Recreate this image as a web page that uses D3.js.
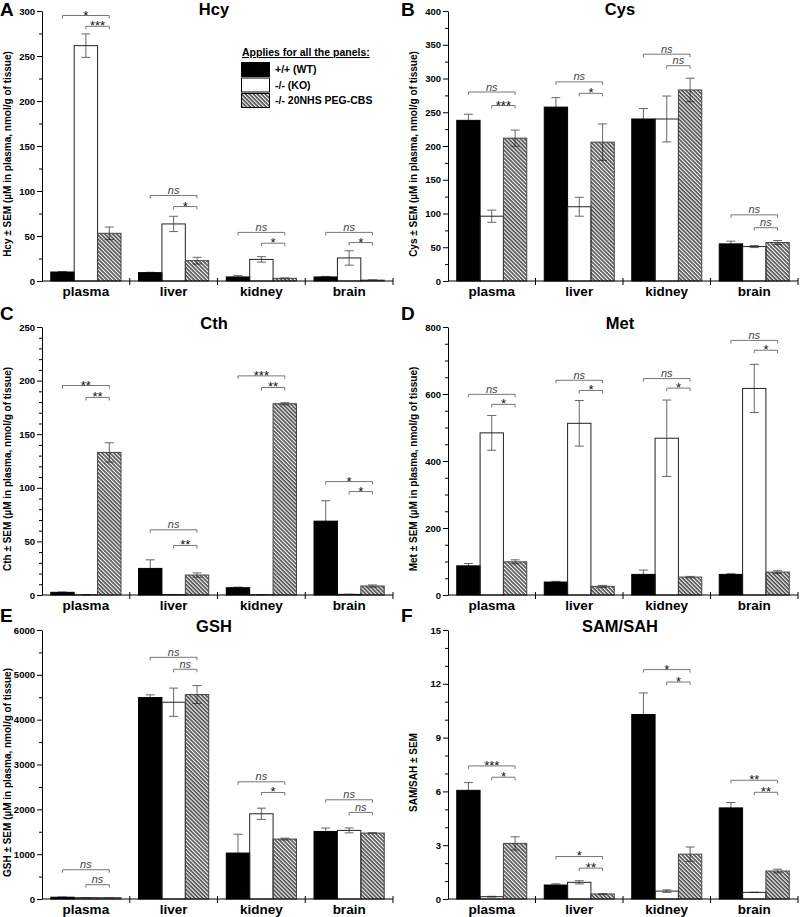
<!DOCTYPE html>
<html>
<head>
<meta charset="utf-8">
<script src="https://cdn.jsdelivr.net/npm/d3@7"></script>
<style>
  body { margin: 0; background: #fff; }
  svg { display: block; font-family: "Liberation Sans", Arial, sans-serif; }
</style>
</head>
<body>
<div id="chart"></div>
<script>
// Categories and groups
const categories = ['plasma', 'liver', 'kidney', 'brain'];
const groups = ['+/+ (WT)', '-/- (KO)', '-/- 20NHS PEG-CBS'];

// A - Hcy
const hcyWT = [10, 9.3, 4.5, 4.5];
const hcyKO = [261.5, 63.4, 24, 25.6];
const hcyPEG = [53, 22.6, 3, 1];
const hcyWTsem = [0.6, 0.4, 1.5, 0.6];
const hcyKOsem = [13, 8.5, 3, 8];
const hcyPEGsem = [7, 3.7, 0.4, 0.3];
const hcySigOuter = ['*', 'ns', 'ns', 'ns'];
const hcySigOuterAt = [295, 95, 54, 54];
const hcySigInner = ['***', '*', '*', '*'];
const hcySigInnerAt = [283, 82.7, 42, 42.7];
const hcyTicks = [0, 50, 100, 150, 200, 250, 300];

// B - Cys
const cysWT = [238, 257.6, 240, 55];
const cysKO = [96, 110, 240, 51];
const cysPEG = [211.6, 205.7, 283, 57];
const cysWTsem = [9, 14, 15.5, 4];
const cysKOsem = [9, 14, 34, 1.5];
const cysPEGsem = [12, 27, 17.5, 3];
const cysSigOuter = ['ns', 'ns', 'ns', 'ns'];
const cysSigOuterAt = [280, 295, 336, 98];
const cysSigInner = ['***', '*', 'ns', 'ns'];
const cysSigInnerAt = [260, 278, 319, 79];
const cysTicks = [0, 50, 100, 150, 200, 250, 300, 350, 400];

// C - Cth
const cthWT = [2.5, 24.8, 6.8, 68.9];
const cthKO = [0.2, 0.4, 0.3, 0.6];
const cthPEG = [133, 18.6, 178.4, 8.4];
const cthWTsem = [0.3, 8, 0.6, 19];
const cthKOsem = [0.05, 0.1, 0.05, 0.1];
const cthPEGsem = [9, 2, 1, 1];
const cthSigOuter = ['**', 'ns', '***', '*'];
const cthSigOuterAt = [195.4, 60.8, 204.4, 105.8];
const cthSigInner = ['**', '**', '**', '*'];
const cthSigInnerAt = [184.3, 46.2, 193.6, 96.5];
const cthTicks = [0, 50, 100, 150, 200, 250];

// D - Met
const metWT = [87, 38.7, 61.5, 61.5];
const metKO = [484, 512.5, 468, 616.6];
const metPEG = [99, 25.8, 53.5, 68.4];
const metWTsem = [7, 2, 13, 2];
const metKOsem = [52, 68, 114, 72];
const metPEGsem = [6, 3, 2, 4];
const metSigOuter = ['ns', 'ns', 'ns', 'ns'];
const metSigOuterAt = [599, 641, 646, 760];
const metSigInner = ['*', '*', '*', '*'];
const metSigInnerAt = [569, 610.6, 617.6, 730.6];
const metTicks = [0, 200, 400, 600, 800];

// E - GSH
const gshWT = [40, 4493, 1025, 1507];
const gshKO = [30, 4389, 1901, 1530];
const gshPEG = [30, 4560, 1337, 1470];
const gshWTsem = [3, 60, 420, 75];
const gshKOsem = [3, 315, 125, 55];
const gshPEGsem = [3, 200, 20, 10];
const gshSigOuter = ['ns', 'ns', 'ns', 'ns'];
const gshSigOuterAt = [653, 5391, 2614, 2213];
const gshSigInner = ['ns', 'ns', '*', 'ns'];
const gshSigInnerAt = [319, 5124, 2376, 1931];
const gshTicks = [0, 1000, 2000, 3000, 4000, 5000, 6000];

// F - SAM/SAH
const ssWT = [6.06, 0.78, 10.29, 5.08];
const ssKO = [0.13, 0.93, 0.44, 0.37];
const ssPEG = [3.1, 0.28, 2.5, 1.56];
const ssWTsem = [0.43, 0.07, 1.2, 0.3];
const ssKOsem = [0.02, 0.09, 0.07, 0.01];
const ssPEGsem = [0.37, 0.02, 0.4, 0.1];
const ssSigOuter = ['***', '*', '*', '**'];
const ssSigOuterAt = [7.42, 2.37, 12.79, 6.62];
const ssSigInner = ['*', '**', '*', '**'];
const ssSigInnerAt = [6.79, 1.72, 12.1, 5.95];
const ssTicks = [0, 3, 6, 9, 12, 15];

const width = 800, height = 917;

const svg = d3.select('#chart')
  .append('svg')
  .attr('width', width)
  .attr('height', height);

// hatch pattern for the PEG-CBS bars
const pat = svg.append('defs').append('pattern')
  .attr('id', 'hatch')
  .attr('patternUnits', 'userSpaceOnUse')
  .attr('width', 2.8)
  .attr('height', 2.8)
  .attr('patternTransform', 'rotate(-45)');
pat.append('line')
  .attr('x1', 1).attr('y1', 0).attr('x2', 1).attr('y2', 2.8)
  .attr('stroke', '#111')
  .attr('stroke-width', 1.25);

const fills = ['#000', 'none', 'url(#hatch)'];
const strokes = ['#000', '#222', '#444'];

// layout of the six panels
const cols = [
  { left: 42, right: 393, letterX: 0, ylabelX: 7 },
  { left: 448, right: 798, letterX: 401, ylabelX: 413 }
];
const rows = [
  { top: 11, bottom: 281, letterY: 16, titleY: 15 },
  { top: 327, bottom: 595, letterY: 320, titleY: 329 },
  { top: 630, bottom: 899, letterY: 622, titleY: 632 }
];

const panels = [
  { letter: 'A', title: 'Hcy', ylabel: 'Hcy ± SEM (µM in plasma, nmol/g of tissue)',
    ticks: hcyTicks, minor: 25, vals: [hcyWT, hcyKO, hcyPEG], sems: [hcyWTsem, hcyKOsem, hcyPEGsem],
    outer: hcySigOuter, outerAt: hcySigOuterAt, inner: hcySigInner, innerAt: hcySigInnerAt },
  { letter: 'B', title: 'Cys', ylabel: 'Cys ± SEM (µM in plasma, nmol/g of tissue)',
    ticks: cysTicks, minor: 25, vals: [cysWT, cysKO, cysPEG], sems: [cysWTsem, cysKOsem, cysPEGsem],
    outer: cysSigOuter, outerAt: cysSigOuterAt, inner: cysSigInner, innerAt: cysSigInnerAt },
  { letter: 'C', title: 'Cth', ylabel: 'Cth ± SEM (µM in plasma, nmol/g of tissue)',
    ticks: cthTicks, minor: 10, vals: [cthWT, cthKO, cthPEG], sems: [cthWTsem, cthKOsem, cthPEGsem],
    outer: cthSigOuter, outerAt: cthSigOuterAt, inner: cthSigInner, innerAt: cthSigInnerAt },
  { letter: 'D', title: 'Met', ylabel: 'Met ± SEM (µM in plasma, nmol/g of tissue)',
    ticks: metTicks, minor: 50, vals: [metWT, metKO, metPEG], sems: [metWTsem, metKOsem, metPEGsem],
    outer: metSigOuter, outerAt: metSigOuterAt, inner: metSigInner, innerAt: metSigInnerAt },
  { letter: 'E', title: 'GSH', ylabel: 'GSH ± SEM (µM in plasma, nmol/g of tissue)',
    ticks: gshTicks, minor: 500, vals: [gshWT, gshKO, gshPEG], sems: [gshWTsem, gshKOsem, gshPEGsem],
    outer: gshSigOuter, outerAt: gshSigOuterAt, inner: gshSigInner, innerAt: gshSigInnerAt },
  { letter: 'F', title: 'SAM/SAH', ylabel: 'SAM/SAH ± SEM',
    ticks: ssTicks, minor: 1, vals: [ssWT, ssKO, ssPEG], sems: [ssWTsem, ssKOsem, ssPEGsem],
    outer: ssSigOuter, outerAt: ssSigOuterAt, inner: ssSigInner, innerAt: ssSigInnerAt }
];

panels.forEach((p, i) => {
  const col = cols[i % 2], row = rows[Math.floor(i / 2)];
  const g = svg.append('g');

  const yMax = p.ticks[p.ticks.length - 1];
  const y = d3.scaleLinear().domain([0, yMax]).range([row.bottom, row.top]);
  const x0 = d3.scaleBand().domain(categories).range([col.left, col.right]).padding(0);
  const pad = x0.bandwidth() * 0.1;
  const x1 = d3.scaleBand().domain(groups).range([pad, x0.bandwidth() - pad]).padding(0);
  const bw = x1.bandwidth();

  // flatten to bar records
  const bars = [];
  categories.forEach((c, ci) => {
    groups.forEach((gr, gi) => {
      bars.push({ cat: c, group: gr, gi: gi, v: p.vals[gi][ci], sem: p.sems[gi][ci] });
    });
  });

  // error bars (drawn below bars, hidden by solid black bars)
  const capW = 4.5;
  bars.forEach(d => {
    const cx = x0(d.cat) + x1(d.group) + bw / 2;
    const yHi = y(d.v + d.sem), yLo = y(Math.max(0, d.v - d.sem));
    g.append('line').attr('x1', cx).attr('x2', cx).attr('y1', yHi).attr('y2', yLo)
      .attr('stroke', '#666').attr('stroke-width', 1);
    [yHi, yLo].forEach(yy => {
      g.append('line').attr('x1', cx - capW).attr('x2', cx + capW).attr('y1', yy).attr('y2', yy)
        .attr('stroke', '#666').attr('stroke-width', 1);
    });
  });

  // bars
  g.selectAll('rect.bar')
    .data(bars)
    .enter()
    .append('rect')
    .attr('class', 'bar')
    .attr('x', d => x0(d.cat) + x1(d.group))
    .attr('y', d => y(d.v))
    .attr('width', bw)
    .attr('height', d => y(0) - y(d.v))
    .attr('fill', d => fills[d.gi])
    .attr('stroke', d => strokes[d.gi])
    .attr('stroke-width', 1);

  // y axis with minor ticks
  const minorTicks = d3.range(0, yMax + 1e-9, p.minor).filter(v => p.ticks.indexOf(v) < 0);
  g.append('g')
    .attr('transform', `translate(${col.left},0)`)
    .call(d3.axisLeft(y).tickValues(minorTicks).tickSize(3).tickFormat(''))
    .call(a => a.select('.domain').remove());
  const yAxis = g.append('g')
    .attr('transform', `translate(${col.left},0)`)
    .call(d3.axisLeft(y).tickValues(p.ticks).tickSize(5).tickSizeOuter(0).tickPadding(2)
      .tickFormat(d3.format('d')));
  yAxis.selectAll('text')
    .style('font-size', '9.5px')
    .style('font-weight', 'bold')
    .style('font-family', '"Liberation Sans", Arial, sans-serif');

  // x axis
  const xAxis = g.append('g')
    .attr('transform', `translate(0,${row.bottom})`)
    .call(d3.axisBottom(x0).tickSize(0).tickPadding(5));
  xAxis.select('.domain').attr('d', `M${col.left},0H${col.right}`);
  xAxis.selectAll('text')
    .style('font-size', '13.5px')
    .style('font-weight', 'bold')
    .style('font-family', '"Liberation Sans", Arial, sans-serif');
  categories.forEach((c, ci) => {
    if (ci === 0) return;
    g.append('line').attr('x1', x0(c)).attr('x2', x0(c))
      .attr('y1', row.bottom - 3).attr('y2', row.bottom + 4).attr('stroke', '#000');
  });
  g.append('line').attr('x1', col.right).attr('x2', col.right)
    .attr('y1', row.bottom - 3).attr('y2', row.bottom + 4).attr('stroke', '#000');

  // significance brackets
  const drawBracket = (xa, xb, level, label) => {
    const yy = y(level);
    g.append('path')
      .attr('d', `M${xa},${yy + 3}V${yy}H${xb}V${yy + 3}`)
      .attr('fill', 'none')
      .attr('stroke', '#777')
      .attr('stroke-width', 1);
    const isNs = label === 'ns';
    g.append('text')
      .attr('x', (xa + xb) / 2)
      .attr('y', isNs ? yy - 1.5 : yy + 4)
      .attr('text-anchor', 'middle')
      .style('font-size', isNs ? '11px' : '13px')
      .style('font-style', isNs ? 'italic' : 'normal')
      .style('fill', isNs ? '#444' : '#111')
      .text(label);
  };
  categories.forEach((c, ci) => {
    const cWT = x0(c) + x1(groups[0]) + bw / 2;
    const cKO = x0(c) + x1(groups[1]) + bw / 2;
    const cPEG = x0(c) + x1(groups[2]) + bw / 2;
    drawBracket(cWT, cPEG, p.outerAt[ci], p.outer[ci]);
    drawBracket(cKO, cPEG, p.innerAt[ci], p.inner[ci]);
  });

  // y label
  g.append('text')
    .attr('transform', `translate(${col.ylabelX},${(row.top + row.bottom) / 2 + 8}) rotate(-90)`)
    .attr('text-anchor', 'middle')
    .attr('dy', '0.35em')
    .style('font-size', '10px')
    .style('font-weight', 'bold')
    .text(p.ylabel);

  // title and panel letter
  g.append('text')
    .attr('x', col.left + 172)
    .attr('y', row.titleY)
    .attr('text-anchor', 'middle')
    .style('font-size', '16.5px')
    .style('font-weight', 'bold')
    .text(p.title);
  g.append('text')
    .attr('x', col.letterX)
    .attr('y', row.letterY)
    .style('font-size', '19px')
    .style('font-weight', 'bold')
    .text(p.letter);
});

// legend (in panel A)
const legend = svg.append('g').attr('transform', 'translate(241,0)');
legend.append('text')
  .attr('x', 1).attr('y', 56)
  .style('font-size', '10.5px')
  .style('font-weight', 'bold')
  .style('text-decoration', 'underline')
  .text('Applies for all the panels:');
groups.forEach((gr, gi) => {
  legend.append('rect')
    .attr('x', 0.5).attr('y', 62.5 + gi * 15.5)
    .attr('width', 28).attr('height', 14)
    .attr('fill', gi === 1 ? '#fff' : fills[gi])
    .attr('stroke', '#000').attr('stroke-width', 1);
  legend.append('text')
    .attr('x', 34).attr('y', 69.5 + gi * 15.5)
    .attr('dy', '0.35em')
    .style('font-size', '10.5px')
    .style('font-weight', 'bold')
    .text(gr);
});
</script>
</body>
</html>
